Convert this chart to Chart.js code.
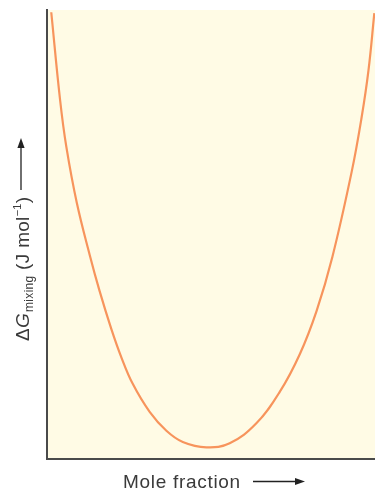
<!DOCTYPE html>
<html>
<head>
<meta charset="utf-8">
<script src="https://cdn.jsdelivr.net/npm/chart.js@4.4.0/dist/chart.umd.min.js"></script>
<style>
  html, body { margin: 0; padding: 0; background: #ffffff; }
  #wrap { width: 375px; height: 490px; position: relative; }
</style>
</head>
<body>
<div id="wrap"><canvas id="c" width="375" height="490"></canvas></div>
<script>
// Data (x: mole fraction 0..1, y: relative ΔG scale, 0 = bottom axis, 100 = top)
const moleFraction = [0.013, 0.040, 0.059, 0.091, 0.130, 0.160, 0.196, 0.227, 0.261, 0.313, 0.364, 0.414, 0.486, 0.557, 0.639, 0.710, 0.771, 0.822, 0.870, 0.929, 0.959, 0.980, 0.998];
const deltaG       = [99.5, 79.9, 69.5, 57.0, 45.5, 37.5, 29.0, 22.6, 16.8, 10.5, 6.3, 3.8, 2.6, 3.5, 8.0, 15.0, 23.4, 33.0, 45.0, 64.0, 76.0, 86.5, 99.3];
const xTitle = "Mole fraction";
const yTitleParts = ["Δ", "G", "mixing", " (J mol", "−1", ")"];

const points = moleFraction.map((x, i) => ({ x: x, y: deltaG[i] }));

const FONT = "'Liberation Sans', Arial, sans-serif";
const TEXT = "#3a3a3a";

function arrow(ctx, x1, y1, x2, y2) {
  const ang = Math.atan2(y2 - y1, x2 - x1);
  const L = 10, W = 3.6;
  ctx.beginPath();
  ctx.moveTo(x1, y1);
  ctx.lineTo(x2 - L * Math.cos(ang), y2 - L * Math.sin(ang));
  ctx.stroke();
  ctx.beginPath();
  ctx.moveTo(x2, y2);
  ctx.lineTo(x2 - L * Math.cos(ang) - W * Math.sin(ang), y2 - L * Math.sin(ang) + W * Math.cos(ang));
  ctx.lineTo(x2 - L * Math.cos(ang) + W * Math.sin(ang), y2 - L * Math.sin(ang) - W * Math.cos(ang));
  ctx.closePath();
  ctx.fill();
}

const decor = {
  id: 'decor',
  beforeDraw(chart) {
    const { ctx, chartArea: a } = chart;
    ctx.save();
    ctx.fillStyle = '#fffbe5';
    ctx.fillRect(a.left, a.top, a.right - a.left, a.bottom - a.top);
    ctx.restore();
  },
  afterDraw(chart) {
    const { ctx, chartArea: a } = chart;
    ctx.save();
    ctx.fillStyle = TEXT;
    ctx.strokeStyle = '#222';
    ctx.lineWidth = 1.3;
    ctx.textBaseline = 'alphabetic';
    ctx.textAlign = 'left';

    // X title
    ctx.font = "19px " + FONT;
    ctx.letterSpacing = '0.7px';
    ctx.fillText(xTitle, a.left + 76, 488);
    ctx.letterSpacing = '0px';
    ctx.fillStyle = '#222';
    arrow(ctx, a.left + 206, 481.5, a.left + 258, 481.5);

    // Y title (rotated)
    ctx.fillStyle = TEXT;
    ctx.translate(28.5, 341);
    ctx.rotate(-Math.PI / 2);
    ctx.letterSpacing = '0.3px';
    let cx = 0;
    const seg = (t, font, dy) => {
      ctx.font = font;
      ctx.fillText(t, cx, dy);
      cx += ctx.measureText(t).width;
    };
    seg(yTitleParts[0], "19px " + FONT, 0);
    seg(yTitleParts[1], "italic 19px " + FONT, 0);
    cx += 1;
    seg(yTitleParts[2], "12px " + FONT, 4);
    seg(yTitleParts[3], "19px " + FONT, 0);
    seg(yTitleParts[4], "11px " + FONT, -8);
    seg(yTitleParts[5], "19px " + FONT, 0);
    ctx.letterSpacing = '0px';
    ctx.fillStyle = '#222';
    arrow(ctx, 151, -7.5, 203, -7.5);
    ctx.restore();
  }
};

new Chart(document.getElementById('c'), {
  type: 'line',
  data: {
    datasets: [{
      data: points,
      borderColor: '#f7945c',
      borderWidth: 2.2,
      pointRadius: 0,
      fill: false,
      tension: 0.4
    }]
  },
  options: {
    responsive: false,
    animation: false,
    devicePixelRatio: 1,
    layout: { padding: { left: 47, top: 10, right: 0, bottom: 31 } },
    plugins: { legend: { display: false }, tooltip: { enabled: false } },
    scales: {
      x: {
        type: 'linear', min: 0, max: 1,
        ticks: { display: false },
        grid: { color: 'transparent', drawTicks: false },
        border: { display: true, color: '#4a4a4a', width: 2 }
      },
      y: {
        type: 'linear', min: 0, max: 100,
        ticks: { display: false },
        grid: { color: 'transparent', drawTicks: false },
        border: { display: true, color: '#4a4a4a', width: 2 }
      }
    }
  },
  plugins: [decor]
});
</script>
</body>
</html>
